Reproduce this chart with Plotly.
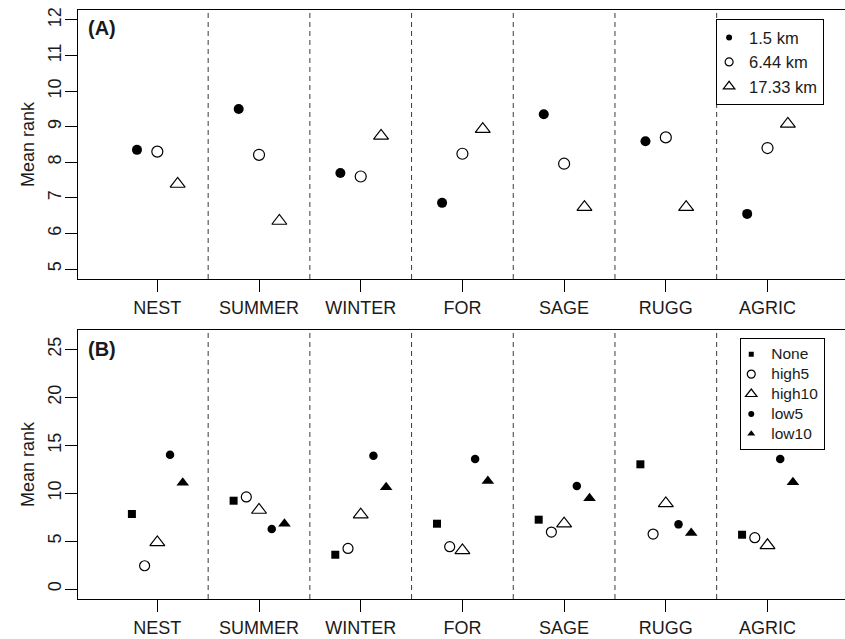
import plotly.graph_objects as go

categories = ["NEST", "SUMMER", "WINTER", "FOR", "SAGE", "RUGG", "AGRIC"]

# Panel A: mean rank by scale
scale_names = ["1.5 km", "6.44 km", "17.33 km"]
a_15 = [8.35, 9.50, 7.70, 6.86, 9.35, 8.59, 6.55]
a_644 = [8.30, 8.21, 7.60, 8.24, 7.96, 8.70, 8.40]
a_1733 = [7.39, 6.35, 8.74, 8.93, 6.74, 6.74, 9.08]

# Panel B: mean rank by treatment
treat_names = ["None", "high5", "high10", "low5", "low10"]
b_none = [7.83, 9.22, 3.58, 6.82, 7.24, 13.02, 5.67]
b_high5 = [2.43, 9.61, 4.24, 4.42, 5.95, 5.74, 5.36]
b_high10 = [4.87, 8.25, 7.76, 4.03, 6.82, 8.94, 4.56]
b_low5 = [14.03, 6.27, 13.92, 13.58, 10.76, 6.75, 13.58]
b_low10 = [11.10, 6.82, 10.62, 11.28, 9.47, 5.85, 11.14]

a_offsets = [-0.2, 0.0, 0.2]
b_offsets = [-0.25, -0.125, 0.0, 0.125, 0.25]

FONT = "Liberation Sans, Arial, Helvetica, sans-serif"
TXT = "#1a1a1a"
pos = list(range(1, len(categories) + 1))

fig = go.Figure()

a_series = [a_15, a_644, a_1733]
a_marks = [
    dict(symbol="circle", size=10, color="black"),
    dict(symbol="circle-open", size=11, color="black", line=dict(width=1.2)),
    dict(symbol="triangle-up-open", size=13, color="black", line=dict(width=1.2)),
]
a_leg_marks = [
    dict(symbol="circle", size=6, color="black"),
    dict(symbol="circle-open", size=8, color="black", line=dict(width=1.2)),
    dict(symbol="triangle-up-open", size=10, color="black", line=dict(width=1.2)),
]
for vals, off, mk, lmk, nm in zip(a_series, a_offsets, a_marks, a_leg_marks, scale_names):
    fig.add_trace(go.Scatter(x=[p + off for p in pos], y=vals, mode="markers",
                             marker=mk, name=nm, showlegend=False,
                             xaxis="x", yaxis="y", hoverinfo="skip"))
    fig.add_trace(go.Scatter(x=[None], y=[None], mode="markers", marker=lmk,
                             name=nm, showlegend=True, legend="legend",
                             xaxis="x", yaxis="y"))

b_series = [b_none, b_high5, b_high10, b_low5, b_low10]
b_marks = [
    dict(symbol="square", size=8, color="black"),
    dict(symbol="circle-open", size=10, color="black", line=dict(width=1.2)),
    dict(symbol="triangle-up-open", size=13, color="black", line=dict(width=1.2)),
    dict(symbol="circle", size=8.5, color="black"),
    dict(symbol="triangle-up", size=11, color="black"),
]
b_leg_marks = [
    dict(symbol="square", size=5, color="black"),
    dict(symbol="circle-open", size=8, color="black", line=dict(width=1.2)),
    dict(symbol="triangle-up-open", size=10, color="black", line=dict(width=1.2)),
    dict(symbol="circle", size=6, color="black"),
    dict(symbol="triangle-up", size=7, color="black"),
]
for vals, off, mk, lmk, nm in zip(b_series, b_offsets, b_marks, b_leg_marks, treat_names):
    fig.add_trace(go.Scatter(x=[p + off for p in pos], y=vals, mode="markers",
                             marker=mk, name=nm, showlegend=False,
                             xaxis="x2", yaxis="y2", hoverinfo="skip"))
    fig.add_trace(go.Scatter(x=[None], y=[None], mode="markers", marker=lmk,
                             name="<span style='font-size:15.5px'>%s</span>" % nm,
                             showlegend=True, legend="legend2",
                             xaxis="x2", yaxis="y2"))

shapes = []
for k in pos[:-1]:
    for xr, yr in (("x", "y domain"), ("x2", "y2 domain")):
        shapes.append(dict(type="line", xref=xr, yref=yr, x0=k + 0.5, x1=k + 0.5,
                           y0=0, y1=1, line=dict(color="#3a3a3a", width=1, dash="5px,4px"),
                           layer="below"))

xcommon = dict(range=[0.22, 7.762], tickmode="array", tickvals=pos, ticktext=categories,
               showline=True, mirror=True, linecolor="black", linewidth=1.2,
               ticks="outside", ticklen=12, tickwidth=1.2, tickcolor="black",
               showgrid=False, zeroline=False, fixedrange=True,
               tickfont=dict(size=18, color=TXT, family=FONT))
ycommon = dict(showline=True, mirror=False, linecolor="black", linewidth=1.2,
               ticks="outside", ticklen=12, tickwidth=1.2, tickcolor="black",
               showgrid=False, zeroline=False, tickangle=-90, ticklabelstandoff=-3,
               fixedrange=True,
               tickfont=dict(size=18, color=TXT, family=FONT),
               title=dict(text="Mean rank", font=dict(size=18, color=TXT, family=FONT),
                          standoff=5))

fig.update_layout(
    width=845, height=639,
    margin=dict(l=78, r=0, t=10, b=40),
    paper_bgcolor="white", plot_bgcolor="white",
    font=dict(family=FONT, color=TXT),
    xaxis=dict(domain=[0, 1], anchor="y", **xcommon),
    yaxis=dict(domain=[0.5433, 1.0], anchor="x", range=[4.72, 12.28],
               tickvals=[5, 6, 7, 8, 9, 10, 11, 12], **ycommon),
    xaxis2=dict(domain=[0, 1], anchor="y2", **xcommon),
    yaxis2=dict(domain=[0.0, 0.4567], anchor="x2", range=[-1.04, 27.04],
                tickvals=[0, 5, 10, 15, 20, 25], **ycommon),
    shapes=shapes,
    legend=dict(x=0.9725, y=0.9847, xanchor="right", yanchor="top",
                bgcolor="white", bordercolor="black", borderwidth=1.2,
                font=dict(size=16.5, color=TXT, family=FONT),
                itemwidth=30, tracegroupgap=0, indentation=-8),
    legend2=dict(x=0.974, y=0.443, xanchor="right", yanchor="top",
                 bgcolor="white", bordercolor="black", borderwidth=1.2,
                 font=dict(size=13, color=TXT, family=FONT),
                 itemwidth=30, tracegroupgap=0, indentation=-10),
    annotations=[
        dict(text="<b>(A)</b>", xref="paper", yref="paper", x=0.0104, y=0.9694,
             xanchor="left", yanchor="middle", showarrow=False,
             font=dict(size=20, color=TXT, family=FONT)),
        dict(text="<b>(B)</b>", xref="paper", yref="paper", x=0.0104, y=0.4244,
             xanchor="left", yanchor="middle", showarrow=False,
             font=dict(size=20, color=TXT, family=FONT)),
    ],
)

fig.write_html("out.html", config={"displayModeBar": False},
               post_script="document.body.style.margin='0px';")
